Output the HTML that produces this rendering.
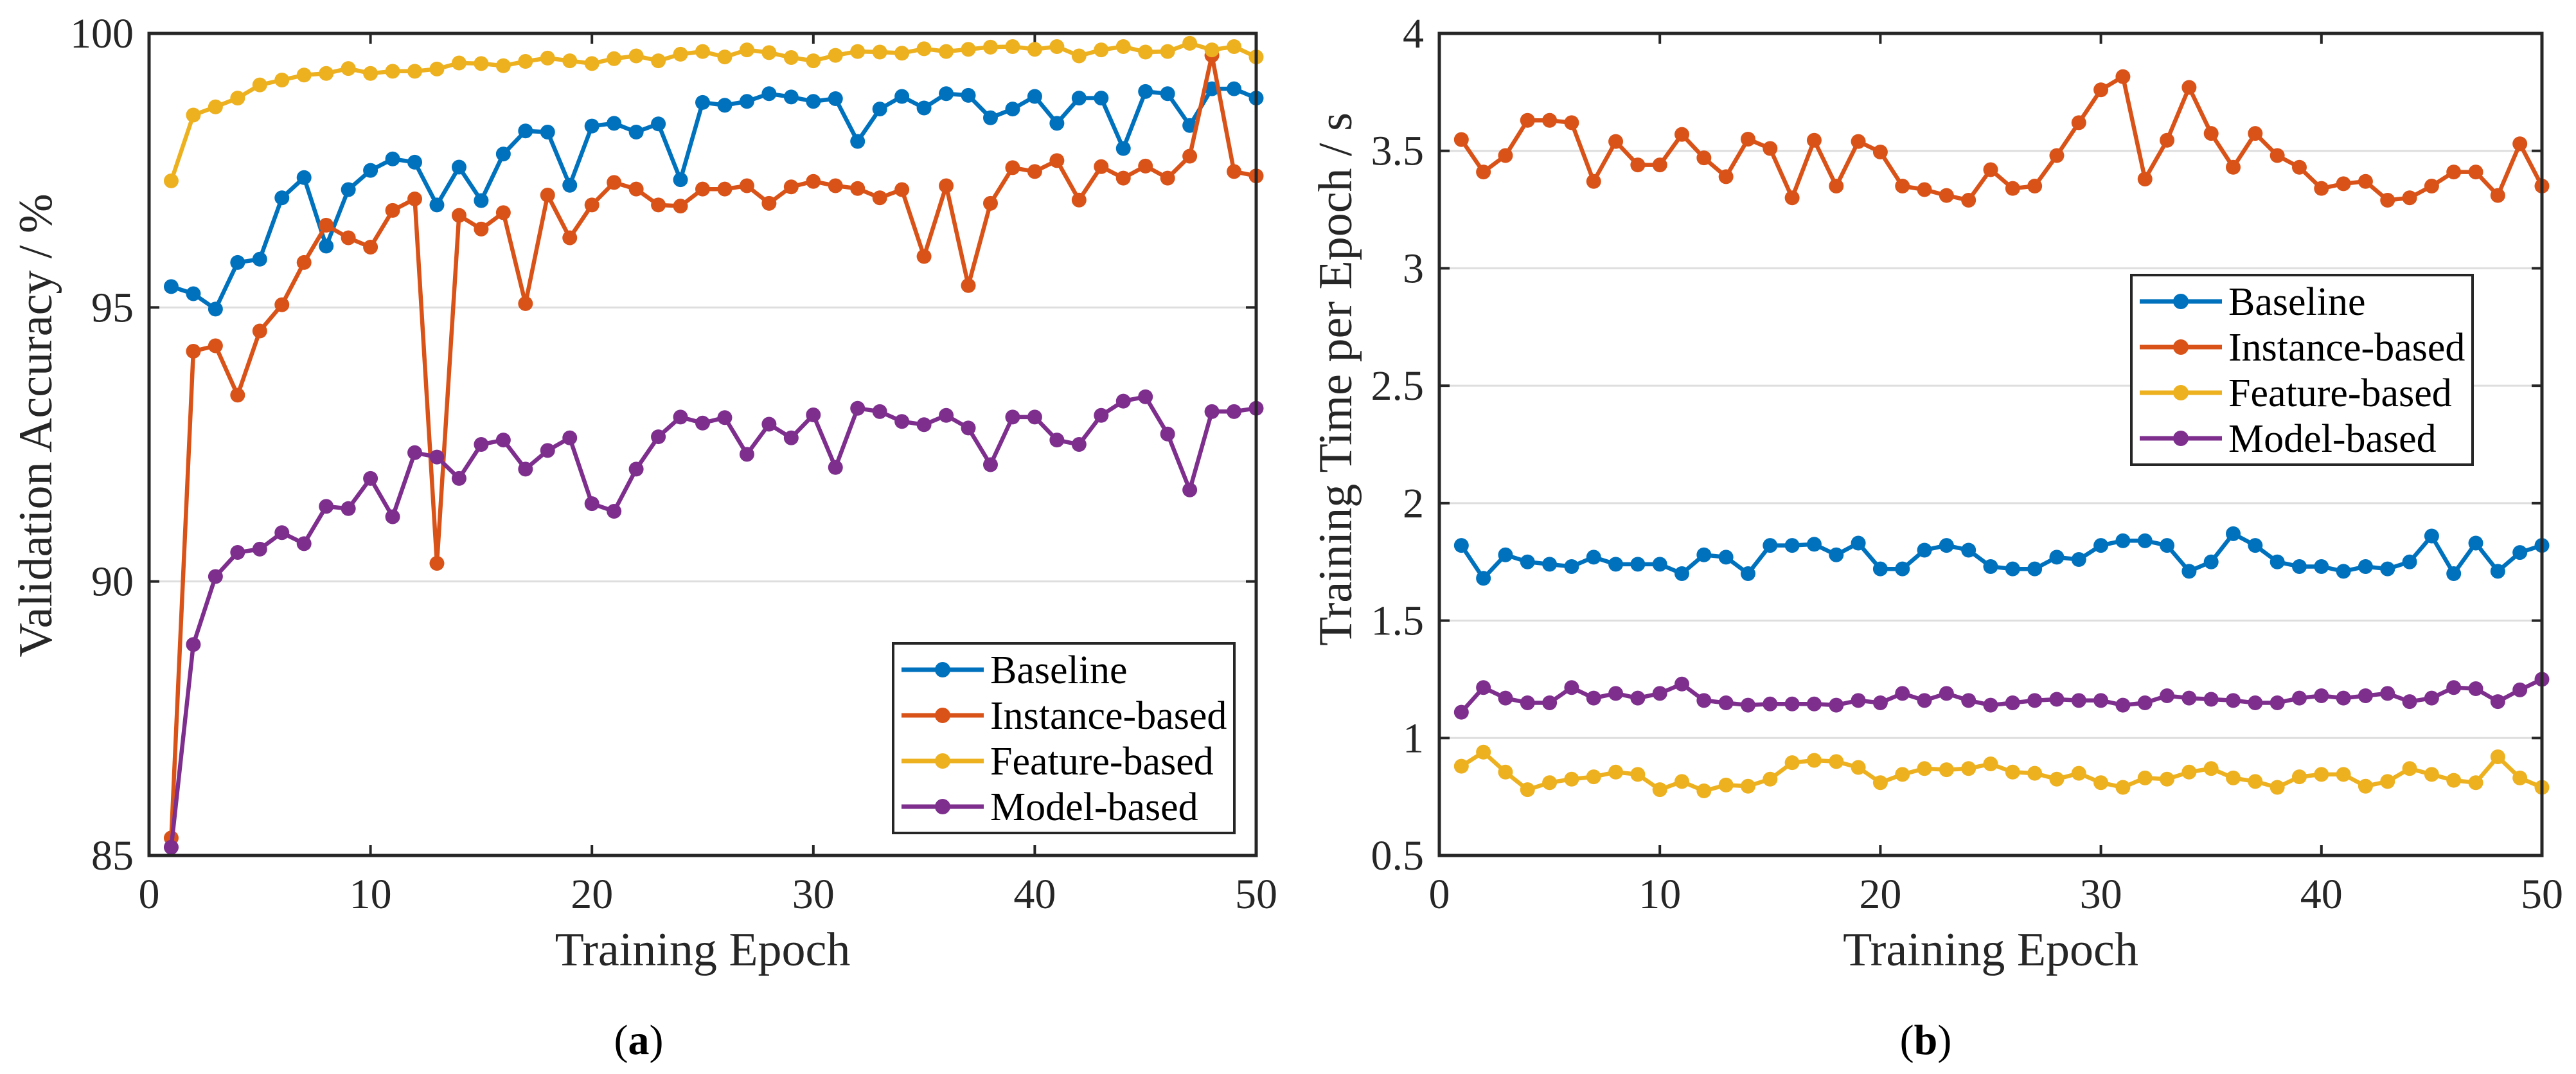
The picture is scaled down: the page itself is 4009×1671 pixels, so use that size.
<!DOCTYPE html>
<html><head><meta charset="utf-8"><style>
html,body{margin:0;padding:0;background:#fff;}
svg{display:block;font-family:"Liberation Serif",serif;}
</style></head><body>
<svg id="fig" width="4009" height="1671" viewBox="0 0 4009 1671" xmlns="http://www.w3.org/2000/svg"></svg>
<script>
const epochs = Array.from({length:50},(_, i)=>i+1);
const seriesNames = ["Baseline","Instance-based","Feature-based","Model-based"];
const seriesColors = ["#0072BD","#D95319","#EDB120","#7E2F8E"];
const accBaseline = [95.38,95.25,94.97,95.82,95.88,97.0,97.37,96.12,97.15,97.5,97.71,97.65,96.87,97.56,96.95,97.8,98.22,98.2,97.23,98.31,98.36,98.2,98.35,97.33,98.74,98.69,98.76,98.9,98.84,98.76,98.81,98.03,98.62,98.85,98.64,98.9,98.87,98.46,98.62,98.85,98.36,98.82,98.82,97.9,98.94,98.9,98.32,98.99,98.99,98.82];
const accInstance = [85.32,94.2,94.3,93.4,94.57,95.05,95.82,96.5,96.27,96.1,96.77,96.98,90.33,96.68,96.43,96.73,95.07,97.05,96.27,96.87,97.28,97.16,96.87,96.85,97.16,97.16,97.22,96.9,97.2,97.3,97.22,97.17,97.0,97.15,95.93,97.22,95.4,96.9,97.55,97.48,97.68,96.96,97.57,97.36,97.58,97.36,97.76,99.6,97.48,97.4];
const accFeature = [97.31,98.51,98.66,98.82,99.06,99.15,99.24,99.27,99.36,99.27,99.31,99.31,99.35,99.46,99.45,99.41,99.49,99.55,99.5,99.45,99.54,99.59,99.5,99.62,99.67,99.57,99.7,99.65,99.56,99.5,99.6,99.67,99.66,99.64,99.72,99.67,99.71,99.75,99.76,99.71,99.76,99.59,99.7,99.76,99.66,99.67,99.82,99.7,99.76,99.57];
const accModel = [85.15,88.85,90.09,90.53,90.59,90.89,90.69,91.37,91.33,91.88,91.18,92.35,92.27,91.88,92.5,92.58,92.05,92.39,92.62,91.42,91.28,92.05,92.64,93.0,92.89,92.99,92.32,92.87,92.62,93.04,92.08,93.16,93.1,92.92,92.86,93.03,92.8,92.13,93.0,93.0,92.58,92.5,93.03,93.29,93.37,92.69,91.67,93.1,93.1,93.16];
const timeBaseline = [1.82,1.68,1.78,1.75,1.74,1.73,1.77,1.74,1.74,1.74,1.70,1.78,1.77,1.70,1.82,1.82,1.825,1.78,1.83,1.72,1.72,1.80,1.82,1.80,1.73,1.72,1.72,1.77,1.76,1.82,1.84,1.84,1.82,1.71,1.75,1.87,1.82,1.75,1.73,1.73,1.71,1.73,1.72,1.75,1.86,1.70,1.83,1.71,1.79,1.82];
const timeInstance = [3.548,3.41,3.48,3.63,3.63,3.62,3.37,3.54,3.44,3.44,3.57,3.47,3.39,3.55,3.51,3.30,3.545,3.35,3.54,3.495,3.35,3.335,3.31,3.29,3.42,3.34,3.35,3.48,3.62,3.76,3.816,3.38,3.545,3.77,3.574,3.43,3.574,3.48,3.43,3.34,3.36,3.37,3.29,3.30,3.35,3.41,3.41,3.31,3.53,3.35];
const timeFeature = [0.88,0.94,0.855,0.78,0.81,0.825,0.835,0.855,0.845,0.78,0.815,0.775,0.80,0.795,0.825,0.895,0.905,0.90,0.875,0.81,0.845,0.87,0.865,0.87,0.89,0.855,0.85,0.825,0.85,0.81,0.79,0.83,0.825,0.855,0.87,0.83,0.815,0.79,0.835,0.845,0.845,0.795,0.815,0.87,0.845,0.82,0.81,0.92,0.83,0.79];
const timeModel = [1.11,1.215,1.17,1.15,1.15,1.215,1.17,1.19,1.17,1.19,1.23,1.16,1.15,1.14,1.145,1.145,1.145,1.14,1.16,1.15,1.19,1.16,1.19,1.16,1.14,1.15,1.16,1.165,1.16,1.16,1.14,1.15,1.18,1.17,1.165,1.16,1.15,1.15,1.17,1.18,1.17,1.18,1.19,1.155,1.17,1.215,1.21,1.155,1.205,1.25];
const xTicks = [0,10,20,30,40,50];
const accTicks = [85,90,95,100];
const accTickLabels = ["85","90","95","100"];
const timeTicks = [0.5,1,1.5,2,2.5,3,3.5,4];
const timeTickLabels = ["0.5","1","1.5","2","2.5","3","3.5","4"];

const NS="http://www.w3.org/2000/svg";
const svg=document.getElementById('fig');
function mk(tag,attrs,parent){const e=document.createElementNS(NS,tag);for(const k in attrs)e.setAttribute(k,attrs[k]);(parent||svg).appendChild(e);return e;}

function drawPanel(p){
  const g=mk('g',{});
  
  
  const X=v=>p.x0+(v-0)/(50-0)*(p.x1-p.x0);
  const Y=v=>p.y1-(v-p.ymin)/(p.ymax-p.ymin)*(p.y1-p.y0);
  // grid
  p.yt.forEach((t,i)=>{
    const yy=Y(t);
    if(t!==p.ymin&&t!==p.ymax){const gl=mk('line',{x1:p.x0,x2:p.x1,y1:yy,y2:yy,stroke:'#dedede','stroke-width':3},g);
      
      }
    mk('line',{x1:p.x0,x2:p.x0+16,y1:yy,y2:yy,stroke:'#262626','stroke-width':4},g);
    mk('line',{x1:p.x1,x2:p.x1-16,y1:yy,y2:yy,stroke:'#262626','stroke-width':4},g);
    const tl=mk('text',{x:p.x0-24,y:yy+22,'text-anchor':'end','font-size':66,fill:'#262626'},g);
    tl.textContent=p.ytl[i];
    
    
  });
  xTicks.forEach(t=>{
    const xx=X(t);
    mk('line',{x1:xx,x2:xx,y1:p.y1,y2:p.y1-16,stroke:'#262626','stroke-width':4},g);
    mk('line',{x1:xx,x2:xx,y1:p.y0,y2:p.y0+16,stroke:'#262626','stroke-width':4},g);
    const tl=mk('text',{x:xx,y:1413,'text-anchor':'middle','font-size':66,fill:'#262626'},g);
    tl.textContent=String(t);
    
    
  });
  // series
  p.data.forEach((arr,si)=>{
    const sg=mk('g',{},g);
    
    
    const pts=arr.map((v,i)=>X(epochs[i]).toFixed(1)+','+Y(v).toFixed(1)).join(' ');
    mk('polyline',{points:pts,fill:'none',stroke:seriesColors[si],'stroke-width':6.5,'stroke-linejoin':'round'},sg);
    arr.forEach((v,i)=>{
      const c=mk('circle',{cx:X(epochs[i]),cy:Y(v),r:11.5,fill:seriesColors[si]},sg);
      
      
    });
  });
  // box
  const bx=mk('rect',{x:p.x0,y:p.y0,width:p.x1-p.x0,height:p.y1-p.y0,fill:'none',stroke:'#262626','stroke-width':5},g);
  
  
  // titles
  const xt=mk('text',{x:(p.x0+p.x1)/2,y:1502,'text-anchor':'middle','font-size':74,fill:'#262626'},g);
  xt.textContent='Training Epoch';
  
  
  const yt=mk('text',{x:0,y:0,'text-anchor':'middle','font-size':74,fill:'#262626',transform:`translate(${p.ytx},${p.yty}) rotate(-90)`},g);
  yt.textContent=p.ytitle;
  
  
  // legend
  const lg=mk('g',{},g);
  
  
  mk('rect',{x:p.lx,y:p.ly,width:531,height:295,fill:'#fff',stroke:'#262626','stroke-width':4},lg);
  seriesNames.forEach((n,i)=>{
    const e=mk('g',{},lg);
    
    
    const yy=p.ly+41+i*71;
    mk('line',{x1:p.lx+13,x2:p.lx+141,y1:yy,y2:yy,stroke:seriesColors[i],'stroke-width':7},e);
    mk('circle',{cx:p.lx+77,cy:yy,r:12,fill:seriesColors[i]},e);
    const t=mk('text',{x:p.lx+151,y:yy+21,'font-size':62,fill:'#000'},e);
    t.textContent=n;
  });
  // caption
  const cap=mk('text',{x:p.capx,y:1640,'text-anchor':'middle','font-size':66,fill:'#000'},g);
  cap.innerHTML='(<tspan font-weight="bold">'+p.cap+'</tspan>)';
  
  
}

drawPanel({id:'accuracy',x0:232,x1:1955,y0:52,y1:1331,ymin:85,ymax:100,yt:accTicks,ytl:accTickLabels,
  data:[accBaseline,accInstance,accFeature,accModel],ytitle:'Validation Accuracy / %',ytx:80,yty:662,
  lx:1390,ly:1001,capx:994,cap:'a'});
drawPanel({id:'time',x0:2240,x1:3956,y0:52,y1:1331,ymin:0.5,ymax:4,yt:timeTicks,ytl:timeTickLabels,
  data:[timeBaseline,timeInstance,timeFeature,timeModel],ytitle:'Training Time per Epoch / s',ytx:2103,yty:590,
  lx:3317,ly:428,capx:2997,cap:'b'});
</script>
</body></html>
